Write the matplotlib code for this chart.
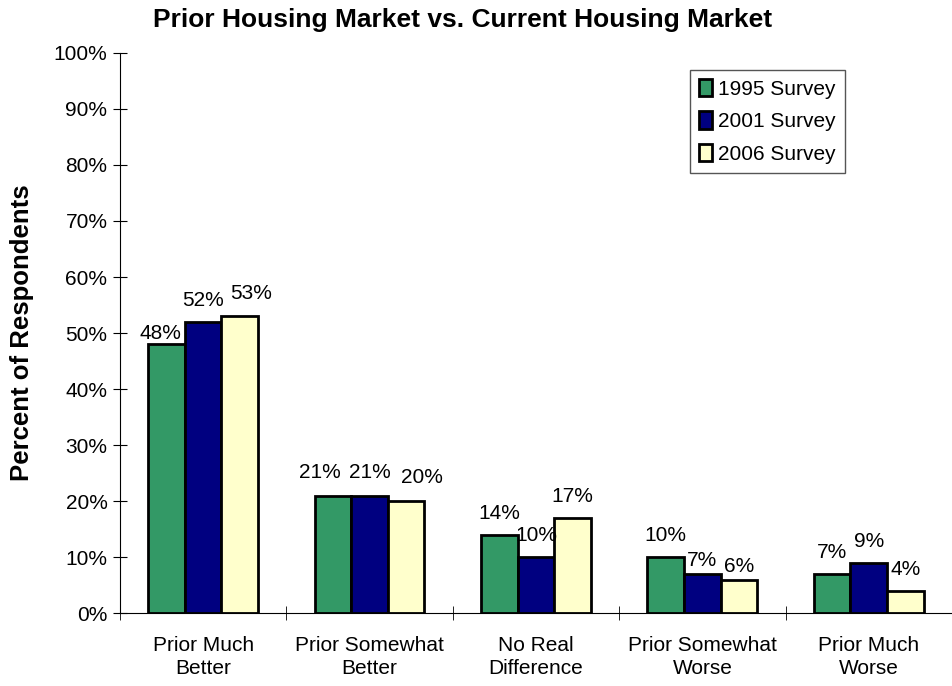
import numpy as np
import matplotlib
matplotlib.use('Agg')
import matplotlib.pyplot as plt
from matplotlib.ticker import PercentFormatter

plt.rcParams['font.family'] = ['Liberation Sans', 'DejaVu Sans']

categories = ['Prior Much\nBetter', 'Prior Somewhat\nBetter', 'No Real\nDifference',
              'Prior Somewhat\nWorse', 'Prior Much\nWorse']
series_names = ['1995 Survey', '2001 Survey', '2006 Survey']
s1995 = [48, 21, 14, 10, 7]
s2001 = [52, 21, 10, 7, 9]
s2006 = [53, 20, 17, 6, 4]

COLORS = ['#339966', '#000080', '#FFFFCC']

# label nudges in pixels (dx, gap above bar top), where labels were shifted to avoid overlap
LABEL_GAP = 16
NUDGE = {(0, 0): (-6, 5), (0, 2): (11, 17), (1, 0): (-13, 18), (1, 1): (0, 18),
         (1, 2): (16, 18), (3, 1): (0, 8), (3, 2): (0, 8)}

fig = plt.figure(figsize=(9.52, 6.86), dpi=100)
ax = fig.add_axes([0.126, 0.106, 0.874, 0.817])

x = np.arange(len(categories))
w = 0.22
px = 72.0 / fig.dpi
for i, (vals, name) in enumerate(zip([s1995, s2001, s2006], series_names)):
    pos = x + (i - 1) * w
    bars = ax.bar(pos, vals, w, color=COLORS[i], edgecolor='black', linewidth=2, label=name)
    for j, (b, v) in enumerate(zip(bars, vals)):
        dx, dy = NUDGE.get((j, i), (0, LABEL_GAP))
        ax.annotate('%d%%' % v, (b.get_x() + b.get_width() / 2, v),
                    xytext=(dx * px, dy * px), textcoords='offset points',
                    ha='center', va='baseline', fontsize=15)

ax.set_xlim(-0.5, len(categories) - 0.5)
ax.set_ylim(0, 100)
ax.set_yticks(range(0, 101, 10))
ax.yaxis.set_major_formatter(PercentFormatter(decimals=0))
ax.set_xticks(x)
ax.set_xticklabels(categories, fontsize=15, linespacing=1.3)
ax.set_xticks(np.arange(-0.5, len(categories), 1), minor=True)
ax.tick_params(axis='x', which='major', length=0, pad=16)
ax.tick_params(axis='x', which='minor', direction='inout', length=10)
ax.tick_params(axis='y', direction='inout', length=10, labelsize=15, pad=4)

for s in ['top', 'right']:
    ax.spines[s].set_visible(False)

ax.set_ylabel('Percent of Respondents', fontsize=18.5, fontweight='bold')
ax.yaxis.set_label_coords(-0.103, 0.5)
fig.text(0.486, 1 - 20 / 686, 'Prior Housing Market vs. Current Housing Market',
         fontsize=19, fontweight='bold', ha='center', va='center')

leg = ax.legend(loc='upper right', bbox_to_anchor=(0.871, 0.970), fontsize=15,
                fancybox=False, framealpha=1, edgecolor='#555555',
                handlelength=0.65, handleheight=0.9, handletextpad=0.25, labelspacing=0.6,
                borderpad=0.45, borderaxespad=0)

fig.savefig('out.png', dpi=100)
